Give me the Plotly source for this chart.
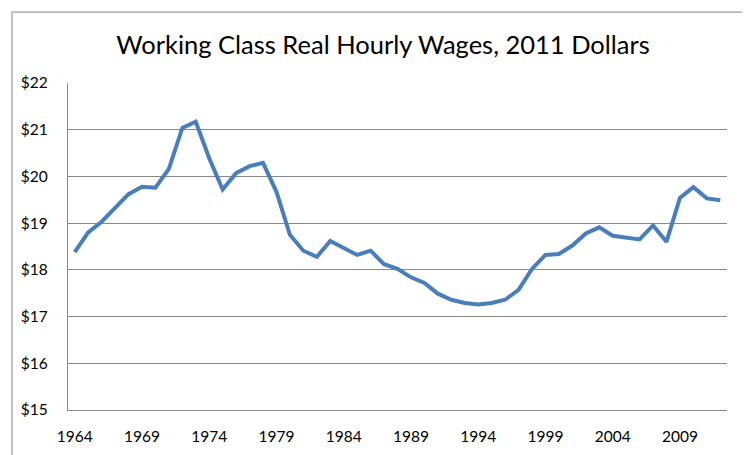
import plotly.graph_objects as go

# Working class real hourly wages, 2011 dollars
years = list(range(1964, 2013))
wages = [
    18.38, 18.80, 19.03, 19.34, 19.62, 19.78, 19.76, 20.16, 21.04, 21.17,
    20.39, 19.72, 20.07, 20.22, 20.29, 19.67, 18.75, 18.41, 18.28, 18.62,
    18.47, 18.32, 18.41, 18.12, 18.02, 17.84, 17.72, 17.49, 17.36, 17.29,
    17.26, 17.29, 17.36, 17.57, 18.02, 18.32, 18.34, 18.52, 18.78, 18.91,
    18.73, 18.70, 18.65, 18.95, 18.60, 19.54, 19.77, 19.53, 19.49,
]
year_ticks = list(range(1964, 2013, 5))
wage_ticks = list(range(15, 23))

FONT = "Lato, 'Open Sans', sans-serif"
GRID = "#888888"

fig = go.Figure()
fig.add_trace(go.Scatter(
    x=years, y=wages, mode="lines",
    line=dict(color="#4A7EBB", width=4),
    hovertemplate="%{x}: $%{y:.2f}<extra></extra>",
))

# the page body adds an 8px offset, so margins are trimmed by that much
fig.update_layout(
    width=750, height=455,
    paper_bgcolor="white", plot_bgcolor="white",
    margin=dict(l=60, r=31, t=75, b=53, autoexpand=False),
    showlegend=False,
    font=dict(family=FONT, color="black"),
    title=dict(
        text="Working Class Real Hourly Wages, 2011 Dollars",
        font=dict(family=FONT, size=25.5, color="black"),
        x=0.5, xanchor="center", y=0.918, yanchor="middle",
    ),
    xaxis=dict(
        range=[1963.5, 2012.5],
        tickvals=year_ticks, ticktext=[str(y) for y in year_ticks],
        showgrid=False, zeroline=False,
        showline=True, linecolor=GRID, linewidth=1.2,
        ticks="", automargin=False,
        ticklabelstandoff=12,
        tickfont=dict(size=15.5),
    ),
    yaxis=dict(
        range=[15, 22],
        tickvals=wage_ticks, ticktext=["$%d" % v for v in wage_ticks],
        showgrid=True, gridcolor=GRID, gridwidth=1.2,
        zeroline=False,
        showline=True, linecolor=GRID, linewidth=1.2,
        ticks="", automargin=False, ticklabelstandoff=16,
        tickfont=dict(size=15.5),
    ),
    shapes=[
        # chart-area border, like the spreadsheet frame
        dict(type="rect", xref="paper", yref="paper",
             x0=-0.085, x1=1.06, y0=-0.2, y1=1.217,
             line=dict(color="#9a9a9a", width=1.2)),
    ],
)

fig.write_html("out.html")
